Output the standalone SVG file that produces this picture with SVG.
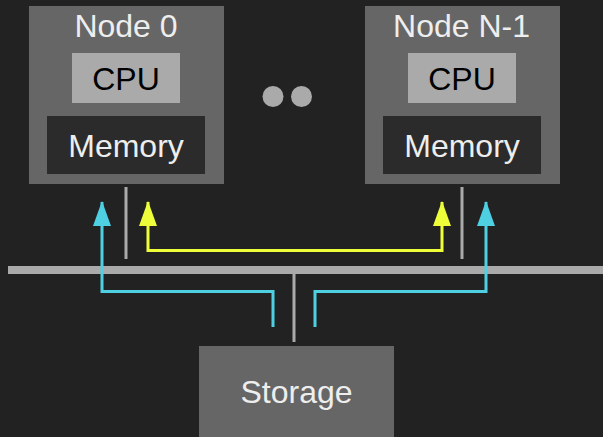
<svg xmlns="http://www.w3.org/2000/svg" width="603" height="437" viewBox="0 0 603 437">
<style>
.bg{fill:#222222}
.node{fill:#666666}
.cpu{fill:#aaaaaa}
.mem{fill:#2b2b2b}
text{font-family:"Liberation Sans",Arial,sans-serif;font-size:32px;text-anchor:middle}
.lt{fill:#eeeeee}
.dk{fill:#000000}
.gray{stroke:#aaaaaa;fill:none}
.cyan{stroke:#4fd0e2;stroke-width:3;fill:none}
.yel{stroke:#eeff3a;stroke-width:3;fill:none}
</style>
<defs>
<marker id="ac" viewBox="0 0 25 18" markerWidth="25" markerHeight="18" refX="24" refY="9" orient="auto" markerUnits="userSpaceOnUse"><path d="M0,0 L25,9 L0,18 z" fill="#4fd0e2"/></marker>
<marker id="ay" viewBox="0 0 25 18" markerWidth="25" markerHeight="18" refX="24" refY="9" orient="auto-start-reverse" markerUnits="userSpaceOnUse"><path d="M0,0 L25,9 L0,18 z" fill="#eeff3a"/></marker>
</defs>
<rect class="bg" x="0" y="0" width="603" height="437"/>
<g id="node0">
<rect class="node" x="29" y="6" width="195" height="178"/>
<text class="lt" x="126" y="37">Node 0</text>
<rect class="cpu" x="72" y="53" width="108" height="50"/>
<text class="dk" x="126" y="90">CPU</text>
<rect class="mem" x="47" y="116" width="158" height="58"/>
<text class="lt" x="126" y="157">Memory</text>
</g>
<g id="nodeN1">
<rect class="node" x="365" y="6" width="195" height="178"/>
<text class="lt" x="461.5" y="37">Node N-1</text>
<rect class="cpu" x="408" y="53" width="108" height="50"/>
<text class="dk" x="462" y="90">CPU</text>
<rect class="mem" x="383" y="116" width="158" height="58"/>
<text class="lt" x="462" y="157">Memory</text>
</g>
<g id="dots">
<circle cx="273" cy="96.5" r="10.5" fill="#aaaaaa"/>
<circle cx="301.5" cy="96.5" r="10.5" fill="#aaaaaa"/>
</g>
<g id="storage">
<rect class="node" x="199" y="346" width="195" height="91"/>
<text class="lt" x="296.5" y="403">Storage</text>
</g>
<g id="connectors">
<line class="gray" x1="8" y1="270" x2="603" y2="270" stroke-width="8"/>
<line class="gray" x1="126" y1="187" x2="126" y2="259" stroke-width="3"/>
<line class="gray" x1="462" y1="187" x2="462" y2="259" stroke-width="3"/>
<line class="gray" x1="294" y1="272" x2="294" y2="342" stroke-width="3"/>
<path class="cyan" d="M273,327 V291.5 H102 V202" marker-end="url(#ac)"/>
<path class="cyan" d="M315,327 V291.5 H486 V202" marker-end="url(#ac)"/>
<path class="yel" d="M148,202 V250.5 H442 V202" marker-start="url(#ay)" marker-end="url(#ay)"/>
</g>
</svg>
